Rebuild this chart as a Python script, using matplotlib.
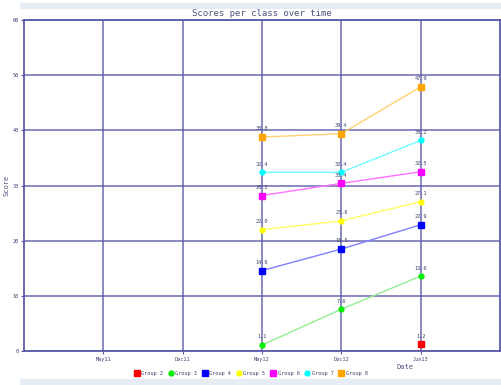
import numpy as np
import matplotlib.pyplot as plt
from matplotlib.patches import Rectangle

# データ
dates = ["May11", "Dec11", "May12", "Dec12", "Jun13"]
groups = ["Group 2", "Group 3", "Group 4", "Group 5", "Group 6", "Group 7", "Group 8"]
colors = ["#ff0000", "#00ee00", "#0000ff", "#ffff00", "#ff00ff", "#00ffff", "#ffa500"]
line_colors = ["#ff8080", "#90ee90", "#8080ff", "#ffff60", "#ff70ff", "#70ffff", "#ffd070"]
big_marker = [True, False, True, False, True, False, True]

g2 = [None, None, None, None, 1.2]
g3 = [None, None, 1.1, 7.6, 13.6]
g4 = [None, None, 14.6, 18.5, 22.9]
g5 = [None, None, 22.0, 23.6, 27.1]
g6 = [None, None, 28.2, 30.4, 32.5]
g7 = [None, None, 32.4, 32.4, 38.2]
g8 = [None, None, 38.8, 39.4, 47.9]
series = [g2, g3, g4, g5, g6, g7, g8]

yticks = [0, 10, 20, 30, 40, 50, 60]

plt.rcParams['font.family'] = 'DejaVu Sans Mono'
grid_c = "#5a5aa8"

fig = plt.figure(figsize=(5.02, 3.85), dpi=100)
fig.patch.set_facecolor("white")
# 上下の薄い帯
fig.patches.append(Rectangle((0.04, 0.98), 0.96, 0.012, transform=fig.transFigure,
                             color="#e6ecf4", zorder=0))
fig.patches.append(Rectangle((0.04, 0.0), 0.96, 0.016, transform=fig.transFigure,
                             color="#e6ecf4", zorder=0))

ax = fig.add_axes([0.048, 0.088, 0.948, 0.86])
x = np.arange(len(dates))

for name, vals, c, lc, big in zip(groups, series, colors, line_colors, big_marker):
    xs = [xi for xi, v in zip(x, vals) if v is not None]
    ys = [v for v in vals if v is not None]
    ax.plot(xs, ys, color=lc, lw=1.0, zorder=3)
    if big:
        ax.plot(xs, ys, ls="none", marker="s", ms=5, color=c, zorder=4, label=name)
    else:
        ax.plot(xs, ys, ls="none", marker="o", ms=3.5, color=c, zorder=4, label=name)
    for xi, yi in zip(xs, ys):
        ax.annotate("{:.1f}".format(yi), (xi, yi), xytext=(0, 4), textcoords="offset points",
                    ha="center", va="bottom", fontsize=3.8, color="#404070", zorder=5)

ax.set_xlim(-1, 5)
ax.set_ylim(0, 60)
ax.set_xticks(x)
ax.set_xticklabels(dates, fontsize=3.8, color="#404070")
ax.set_yticks(yticks)
ax.set_yticklabels([str(t) for t in yticks], fontsize=3.8, color="#404070")
ax.tick_params(length=2, width=0.8, color=grid_c, pad=2)
ax.grid(True, color=grid_c, lw=1.1, alpha=0.9)
ax.set_axisbelow(True)
for s in ax.spines.values():
    s.set_color(grid_c)
    s.set_linewidth(1.3)

ax.set_title("Scores per class over time", fontsize=6.5, color="#505080", pad=3)
ax.set_xlabel("Date", fontsize=5, color="#505080", labelpad=2)
ax.xaxis.set_label_coords(0.8, -0.04)
ax.set_ylabel("Score", fontsize=5, color="#505080", labelpad=2)
ax.yaxis.set_label_coords(-0.03, 0.5)

fig.legend(loc="lower center", bbox_to_anchor=(0.5, 0.012), ncol=7, frameon=False,
           fontsize=3.8, handlelength=1.0, handletextpad=0.3, columnspacing=1.0,
           labelcolor="#404070")

fig.savefig("out.png", dpi=100)
